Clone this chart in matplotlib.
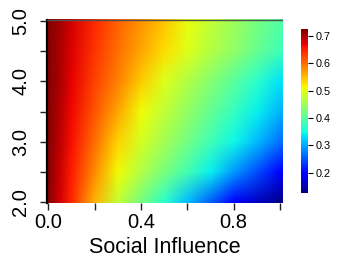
import numpy as np
import matplotlib
matplotlib.use("Agg")
import matplotlib.pyplot as plt
from matplotlib.colors import Normalize
from matplotlib.cm import ScalarMappable
from matplotlib.image import NonUniformImage

plt.rcParams['font.family'] = ['Liberation Sans', 'DejaVu Sans']

# grid of the field
social_influence = [0.0, 0.05, 0.1, 0.2, 0.3, 0.4, 0.5, 0.6, 0.7, 0.8, 0.9, 1.0]
y_values = [2.0, 2.5, 3.0, 3.5, 4.0, 4.5, 5.0]
z_y20 = [0.72, 0.68, 0.645, 0.555, 0.476, 0.42, 0.366, 0.31, 0.255, 0.20, 0.16, 0.13]
z_y25 = [0.72, 0.685, 0.65, 0.58, 0.51, 0.464, 0.423, 0.383, 0.342, 0.29, 0.245, 0.20]
z_y30 = [0.72, 0.69, 0.66, 0.60, 0.535, 0.489, 0.454, 0.418, 0.382, 0.346, 0.31, 0.265]
z_y35 = [0.72, 0.695, 0.665, 0.615, 0.565, 0.51, 0.476, 0.442, 0.408, 0.374, 0.34, 0.305]
z_y40 = [0.72, 0.70, 0.67, 0.627, 0.587, 0.54, 0.497, 0.464, 0.432, 0.399, 0.366, 0.334]
z_y45 = [0.72, 0.70, 0.675, 0.637, 0.60, 0.565, 0.53, 0.495, 0.465, 0.44, 0.41, 0.38]
z_y50 = [0.72, 0.705, 0.68, 0.645, 0.607, 0.575, 0.545, 0.505, 0.475, 0.45, 0.42, 0.395]
z_rows = [z_y20, z_y25, z_y30, z_y35, z_y40, z_y45, z_y50]

x_ticks = [0.0, 0.2, 0.4, 0.6, 0.8, 1.0]
x_ticklabels = ["0.0", "", "0.4", "", "0.8", ""]
y_ticks = [2.0, 2.5, 3.0, 3.5, 4.0, 4.5, 5.0]
y_ticklabels = ["2.0", "", "3.0", "", "4.0", "", "5.0"]
cbar_ticks = [0.2, 0.3, 0.4, 0.5, 0.6, 0.7]
cbar_ticklabels = ["0.2", "0.3", "0.4", "0.5", "0.6", "0.7"]
vmin, vmax = 0.124, 0.725

W, H = 338, 258
fig = plt.figure(figsize=(W / 100, H / 100), dpi=100)

def px_axes(x0, y0, x1, y1):
    return fig.add_axes([x0 / W, 1 - y1 / H, (x1 - x0) / W, (y1 - y0) / H])

ax = px_axes(47, 20, 282, 203)
xlim = (-0.0056, 1.0086)
ylim = (1.9884, 5.0116)
norm = Normalize(vmin, vmax)
im = NonUniformImage(ax, interpolation='bilinear', cmap='jet', norm=norm,
                     extent=(xlim[0], xlim[1], ylim[0], ylim[1]))
im.set_data(np.array(social_influence), np.array(y_values), np.array(z_rows))
ax.add_image(im)
ax.set_xlim(*xlim)
ax.set_ylim(*ylim)

for s in ['right', 'bottom']:
    ax.spines[s].set_visible(False)
ax.spines['left'].set_color('black')
ax.spines['left'].set_linewidth(1.6)
ax.spines['top'].set_color('#505050')
ax.spines['top'].set_linewidth(1.0)

ax.set_xticks(x_ticks)
ax.set_xticklabels(x_ticklabels, fontsize=14.5)
ax.set_yticks(y_ticks)
ax.set_yticklabels(y_ticklabels, fontsize=14.5, rotation=90, va='center')
ax.tick_params(axis='x', length=5, width=1, pad=2.5, color='#222222')
ax.tick_params(axis='y', length=5, width=1, pad=7, color='#222222')
ax.set_xlabel("Social Influence", fontsize=15.5, labelpad=3)

cax = px_axes(301.3, 29.3, 307.7, 193.3)
sm = ScalarMappable(norm=norm, cmap='jet')
cb = fig.colorbar(sm, cax=cax)
cb.outline.set_visible(False)
cb.set_ticks(cbar_ticks)
cb.set_ticklabels(cbar_ticklabels)
cax.tick_params(length=3.5, width=0.8, pad=2.5, labelsize=7.8)

fig.savefig("out.png", dpi=100)
